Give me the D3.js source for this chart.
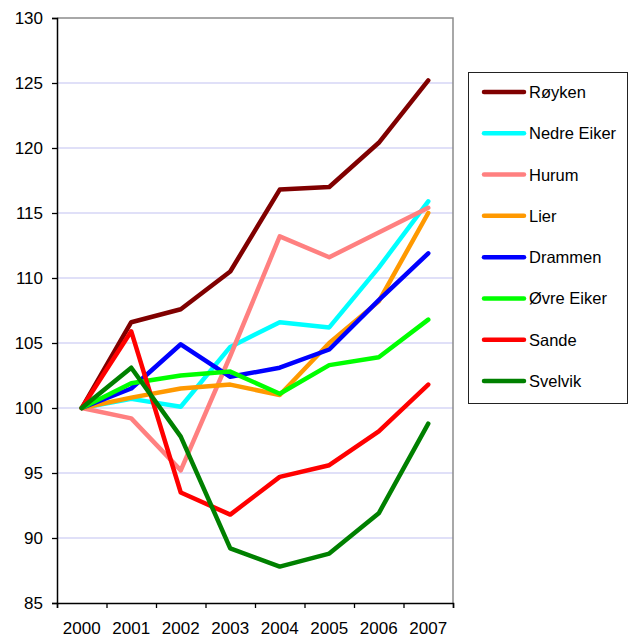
<!DOCTYPE html>
<html>
<head>
<meta charset="utf-8">
<script src="https://cdn.jsdelivr.net/npm/d3@7"></script>
<style>
	body { margin: 0; background: #fff; }
	svg { display: block; font-family: "Liberation Sans", Arial, sans-serif; }
</style>
</head>
<body>
<svg id="chart" width="634" height="637"></svg>
<script>
// data
var years = ["2000", "2001", "2002", "2003", "2004", "2005", "2006", "2007"];
var yTicks = [85, 90, 95, 100, 105, 110, 115, 120, 125, 130];

var royken = [100, 106.6, 107.6, 110.5, 116.8, 117.0, 120.4, 125.2];
var nedreEiker = [100, 100.7, 100.1, 104.7, 106.6, 106.2, 110.8, 115.9];
var hurum = [100, 99.2, 95.2, 104.0, 113.2, 111.6, 113.5, 115.4];
var lier = [100, 100.8, 101.5, 101.8, 101.0, 105.0, 108.2, 115.0];
var drammen = [100, 101.5, 104.9, 102.4, 103.1, 104.5, 108.3, 111.9];
var ovreEiker = [100, 101.9, 102.5, 102.8, 101.1, 103.3, 103.9, 106.8];
var sande = [100, 105.9, 93.5, 91.8, 94.7, 95.6, 98.2, 101.8];
var svelvik = [100, 103.1, 97.8, 89.2, 87.8, 88.8, 91.9, 98.8];

var series = [
	{ name: "Røyken", values: royken, color: "#800000" },
	{ name: "Nedre Eiker", values: nedreEiker, color: "#00ffff" },
	{ name: "Hurum", values: hurum, color: "#ff8080" },
	{ name: "Lier", values: lier, color: "#ff9900" },
	{ name: "Drammen", values: drammen, color: "#0000ff" },
	{ name: "Øvre Eiker", values: ovreEiker, color: "#00ff00" },
	{ name: "Sande", values: sande, color: "#ff0000" },
	{ name: "Svelvik", values: svelvik, color: "#008000" }
];

(function() {
	var plotLeft = 57, plotRight = 453, plotTop = 18, plotBottom = 603;
	var svg = d3.select("#chart");

	var x = d3.scaleBand().domain(years).range([plotLeft, plotRight]).padding(0);
	var xEdges = d3.scaleLinear().domain([0, years.length]).range([plotLeft, plotRight]);
	var y = d3.scaleLinear().domain([85, 130]).range([plotBottom, plotTop]);

	// gridlines
	svg.append("g")
		.selectAll("line")
		.data(yTicks.filter(function(d) { return d > 85 && d < 130; }))
		.join("line")
		.attr("x1", plotLeft).attr("x2", plotRight)
		.attr("y1", function(d) { return y(d); })
		.attr("y2", function(d) { return y(d); })
		.attr("stroke", "#d6d6f6")
		.attr("stroke-width", 1.3);

	// grey frame top + right
	svg.append("path")
		.attr("d", "M" + plotLeft + "," + plotTop + "H" + plotRight + "V" + plotBottom)
		.attr("fill", "none")
		.attr("stroke", "#8c8c8c")
		.attr("stroke-width", 1.5);

	// y axis
	var yAxis = svg.append("g")
		.attr("transform", "translate(" + plotLeft + ",0)")
		.call(d3.axisLeft(y).tickValues(yTicks).tickSize(5).tickPadding(9));
	yAxis.select(".domain").attr("stroke", "#000").attr("stroke-width", 1.5);
	yAxis.selectAll(".tick line").attr("stroke", "#000").attr("stroke-width", 1.3);
	yAxis.selectAll("text")
		.attr("font-size", "17px")
		.attr("fill", "#000")
		.attr("font-family", "Liberation Sans, Arial, sans-serif");

	// x axis ticks at category edges
	var xTickAxis = svg.append("g")
		.attr("transform", "translate(0," + plotBottom + ")")
		.call(d3.axisBottom(xEdges).tickValues(d3.range(years.length + 1)).tickSize(5).tickFormat(""));
	xTickAxis.select(".domain").attr("stroke", "#000").attr("stroke-width", 1.5);
	xTickAxis.selectAll(".tick line").attr("stroke", "#000").attr("stroke-width", 1.3);

	// x labels centred in categories
	var xLabelAxis = svg.append("g")
		.attr("transform", "translate(0," + plotBottom + ")")
		.call(d3.axisBottom(x).tickSize(0).tickPadding(19));
	xLabelAxis.select(".domain").remove();
	xLabelAxis.selectAll("text")
		.attr("font-size", "17px")
		.attr("fill", "#000")
		.attr("font-family", "Liberation Sans, Arial, sans-serif");

	// lines
	var line = d3.line()
		.x(function(d, i) { return x(years[i]) + x.bandwidth() / 2; })
		.y(function(d) { return y(d); });

	svg.append("g")
		.selectAll("path")
		.data(series)
		.join("path")
		.attr("d", function(s) { return line(s.values); })
		.attr("fill", "none")
		.attr("stroke", function(s) { return s.color; })
		.attr("stroke-width", 4.5)
		.attr("stroke-linejoin", "round")
		.attr("stroke-linecap", "round");

	// legend
	var legend = svg.append("g");
	legend.append("rect")
		.attr("x", 468.5).attr("y", 72.5)
		.attr("width", 159).attr("height", 331)
		.attr("fill", "#fff")
		.attr("stroke", "#222")
		.attr("stroke-width", 1);

	var legendY = d3.scalePoint()
		.domain(series.map(function(s) { return s.name; }))
		.range([92, 381]);

	var items = legend.selectAll("g.item")
		.data(series)
		.join("g")
		.attr("class", "item")
		.attr("transform", function(s) { return "translate(0," + legendY(s.name) + ")"; });

	items.append("line")
		.attr("x1", 484).attr("x2", 524)
		.attr("y1", 0).attr("y2", 0)
		.attr("stroke", function(s) { return s.color; })
		.attr("stroke-width", 4.5)
		.attr("stroke-linecap", "round");

	items.append("text")
		.attr("x", 529)
		.attr("y", 0)
		.attr("dy", "0.36em")
		.attr("font-size", "16.5px")
		.attr("fill", "#000")
		.text(function(s) { return s.name; });
})();
</script>
</body>
</html>
